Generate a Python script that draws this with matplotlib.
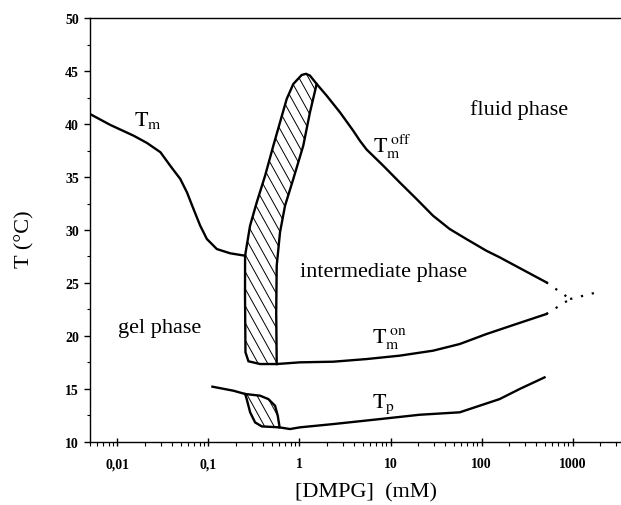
import numpy as np
import matplotlib
matplotlib.use("Agg")
import matplotlib.pyplot as plt
from matplotlib.ticker import FixedLocator, FixedFormatter, MultipleLocator

plt.rcParams['font.family'] = ['Liberation Serif', 'DejaVu Serif']
plt.rcParams['mathtext.fontset'] = 'stix'

# main transition curve Tm (gel -> fluid), low concentration
tm_x = [0.005, 0.00836, 0.0151, 0.0211, 0.0297, 0.038, 0.049, 0.058, 0.0685,
        0.0811, 0.096, 0.1236, 0.173, 0.2525]
tm_y = [40.95, 39.92, 38.9, 38.22, 37.34, 36.07, 34.82, 33.56, 31.98,
        30.41, 29.15, 28.2, 27.8, 27.57]

# Tm off (upper boundary of intermediate phase)
off_x = [1.544, 1.987, 2.78, 3.89, 4.6, 5.46, 8.3, 12.6, 19.3, 29.3, 44.7, 68, 113, 158, 250, 514]
off_y = [43.79, 42.69, 41.12, 39.38, 38.44, 37.6, 36.08, 34.5, 32.93, 31.35, 30.09, 29.15,
         28.04, 27.42, 26.5, 25.06]

# Tm on (lower boundary of intermediate phase)
on_x = [0.562, 1.01, 2.35, 5.46, 12.6, 29.3, 57.6, 113, 241, 514]
on_y = [17.34, 17.5, 17.56, 17.81, 18.13, 18.6, 19.23, 20.17, 21.12, 22.06]

# dotted extrapolation
dot_up_x = [514, 941]
dot_up_y = [25.06, 23.48]
dot_lo_x = [514, 941]
dot_lo_y = [22.06, 23.48]
dot_end_x = [941, 1845]
dot_end_y = [23.48, 24.11]

# pretransition Tp
tp_left_x = [0.1106, 0.188, 0.253]
tp_left_y = [15.2, 14.82, 14.51]
tp_x = [0.601, 0.787, 1.01, 2.35, 7.63, 20.9, 57.6, 95, 158, 262, 492]
tp_y = [11.36, 11.2, 11.36, 11.67, 12.14, 12.55, 12.78, 13.4, 14.03, 14.98, 16.08]

# hatched coexistence region around Tm
big_x = [0.562, 0.555, 0.562, 0.611, 0.694, 0.855, 1.10, 1.304, 1.544,
         1.304, 1.18, 1.057, 0.855, 0.724, 0.611, 0.516, 0.419, 0.3395,
         0.2865, 0.2525, 0.252, 0.255, 0.275, 0.369]
big_y = [17.34, 22.2, 26.63, 29.78, 32.3, 34.82, 37.96, 41.12, 43.79,
         44.58, 44.75, 44.64, 43.79, 42.38, 40.17, 37.96, 35.13, 32.62,
         30.41, 27.57, 23.79, 18.45, 17.6, 17.34]

# hatched region around Tp
small_x = [0.253, 0.369, 0.455, 0.539, 0.577, 0.601, 0.601, 0.385, 0.325, 0.287, 0.263]
small_y = [14.51, 14.35, 14.03, 13.4, 12.46, 11.51, 11.36, 11.45, 11.83, 12.78, 14.03]

x_ticks = [0.01, 0.1, 1, 10, 100, 1000]
x_labels = ['0,01', '0,1', '1', '10', '100', '1000']

fig = plt.figure(figsize=(6.21, 5.06), dpi=100)
ax = fig.add_axes([0.145, 0.125, 0.853, 0.837])

lw = 1.7
ax.plot(tm_x, tm_y, color='black', lw=lw)
ax.plot(off_x, off_y, color='black', lw=lw)
ax.plot(on_x, on_y, color='black', lw=lw)
ax.plot(tp_left_x, tp_left_y, color='black', lw=lw)
ax.plot(tp_x, tp_y, color='black', lw=lw)
for dx, dy in [(dot_up_x, dot_up_y), (dot_lo_x, dot_lo_y), (dot_end_x, dot_end_y)]:
    ax.plot(dx, dy, color='black', lw=1.6, linestyle=(0, (1, 4)))

# steep hatching, drawn as clipped lines (matplotlib hatches are only 45 deg)
step = 9.5 / 530.0
run = (423.4 / 1.8) / 530.0
for px, py in [(big_x, big_y), (small_x, small_y)]:
    poly = ax.fill(px, py, facecolor='none', edgecolor='black', lw=lw, zorder=3)[0]
    for c in np.arange(-0.6, 1.0, step):
        ln, = ax.plot([c, c + run], [1, 0], transform=ax.transAxes, color='black', lw=0.7)
        ln.set_clip_path(poly)

ax.set_xscale('log')
ax.set_xlim(0.005, 3300)
ax.set_ylim(10, 50)

ax.xaxis.set_major_locator(FixedLocator(x_ticks))
ax.xaxis.set_major_formatter(FixedFormatter(x_labels))
ax.yaxis.set_major_locator(MultipleLocator(5))
ax.yaxis.set_minor_locator(MultipleLocator(2.5))

ax.spines['right'].set_visible(False)
for s in ['left', 'bottom', 'top']:
    ax.spines[s].set_linewidth(1.0)

ax.tick_params(axis='x', which='major', direction='inout', length=6, width=1, labelsize=10, pad=8)
ax.tick_params(axis='x', which='minor', direction='out', length=3, width=0.8)
ax.tick_params(axis='y', which='major', direction='out', length=4, width=1, labelsize=10, pad=4)
ax.tick_params(axis='y', which='minor', direction='out', length=2, width=0.8)
for lab in ax.get_xticklabels() + ax.get_yticklabels():
    lab.set_fontweight('bold')

ax.set_xlabel('[DMPG]  (mM)', fontsize=16, va='center')
ax.set_ylabel('T (°C)', fontsize=16, va='center')
ax.xaxis.set_label_coords(0.521, -0.118)
ax.yaxis.set_label_coords(-0.124, 0.48)

fs = 16
ax.text(74, 41.4, 'fluid phase', fontsize=fs, va='center', ha='left')
ax.text(1.01, 26.1, 'intermediate phase', fontsize=fs, va='center', ha='left')
ax.text(0.0102, 20.8, 'gel phase', fontsize=fs, va='center', ha='left')
ax.text(0.0151, 40.4, r'$\mathrm{T}_{\mathrm{m}}$', fontsize=fs, va='center', ha='left')
ax.text(6.35, 38.0, r'$\mathrm{T}_{\mathrm{m}}^{\ \mathrm{off}}$', fontsize=fs, va='center', ha='left')
ax.text(6.19, 19.8, r'$\mathrm{T}_{\mathrm{m}}^{\ \mathrm{on}}$', fontsize=fs, va='center', ha='left')
ax.text(6.19, 13.6, r'$\mathrm{T}_{\mathrm{p}}$', fontsize=fs, va='center', ha='left')

fig.savefig('out.png', dpi=100)
